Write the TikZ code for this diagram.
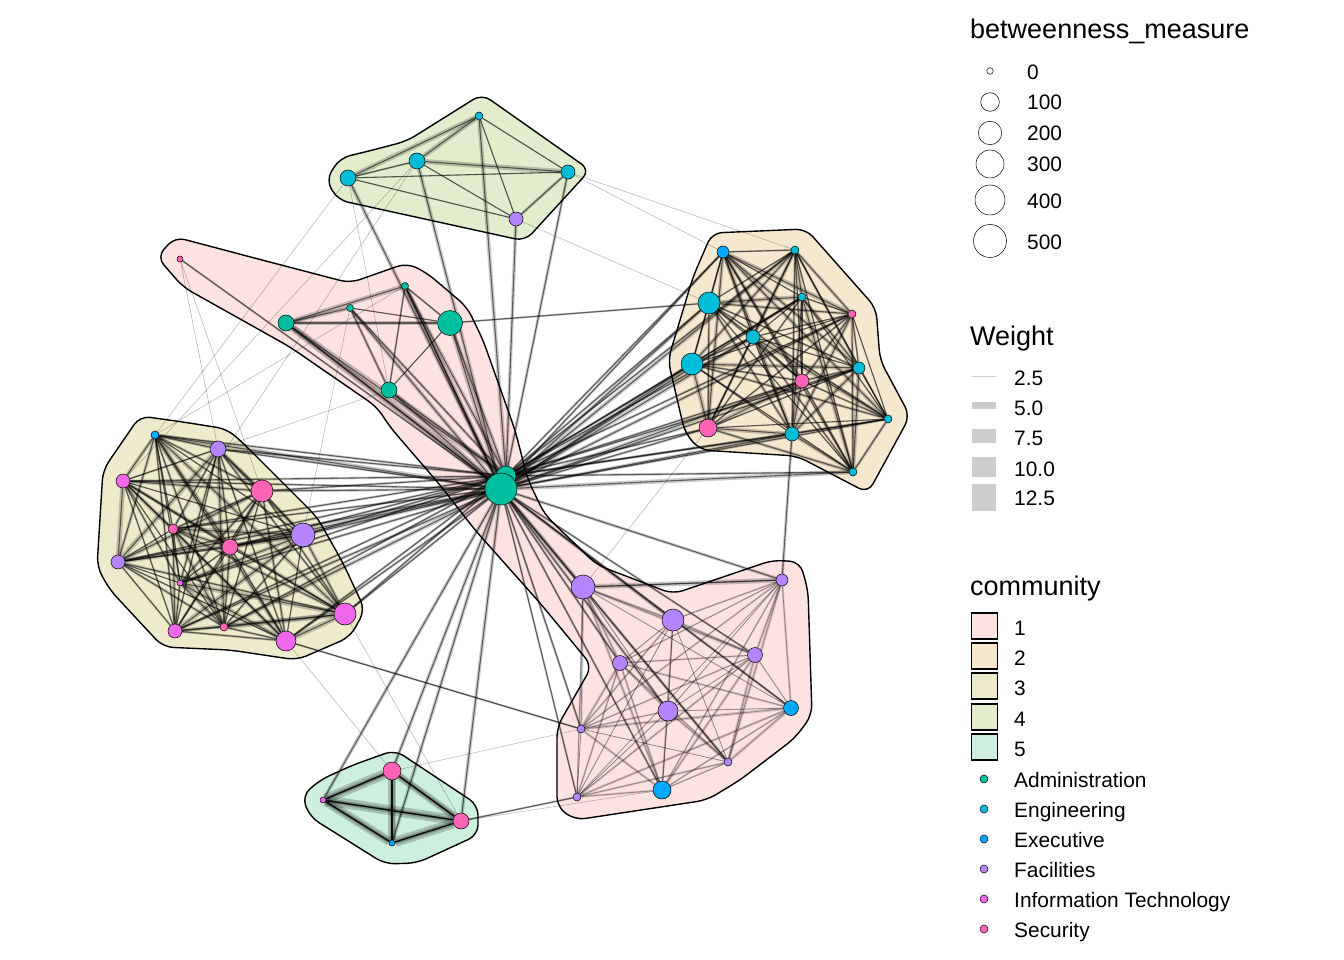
\documentclass[tikz,border=0pt]{standalone}
\usepackage{fontspec}
\setmainfont{Liberation Sans}
\pgfdeclarelayer{hullfill}
\pgfdeclarelayer{edges}
\pgfdeclarelayer{hullline}
\pgfsetlayers{hullfill,edges,hullline,main}
\definecolor{cAdm}{HTML}{00BFA0}
\definecolor{cEng}{HTML}{00BCD6}
\definecolor{cExe}{HTML}{00A8FF}
\definecolor{cFac}{HTML}{B385FF}
\definecolor{cIT}{HTML}{EF67EB}
\definecolor{cSec}{HTML}{FF63B6}
\definecolor{hA}{HTML}{FDE2E2}
\definecolor{hB}{HTML}{F6E8CF}
\definecolor{hC}{HTML}{EEEACC}
\definecolor{hD}{HTML}{E1EDCD}
\definecolor{hE}{HTML}{CDF0DE}
\definecolor{wgray}{HTML}{CCCCCC}
\newcommand\ED[3]{\draw[ehalo,line width=#3pt] (#1) -- (#2);\draw[ecore] (#1) -- (#2);}
\newcommand\ET[2]{\draw[ethin] (#1) -- (#2);}
\newcommand\hullA{(262,260) -- (350,283) -- (407,263) -- (427,273) -- (467,307) -- (483,340) -- (515,430) -- (528,480) -- (545,515) -- (597,565) -- (673,594) -- (773,560) -- (800,562) -- (808,590) -- (812,715) -- (795,738) -- (740,780) -- (707,800) -- (575,820) -- (557,807) -- (557,727) -- (592,666) -- (540,603) -- (475,530) -- (440,485) -- (390,427) -- (377,407) -- (290,347) -- (183,287) -- (157,257) -- (175,237) -- cycle}
\newcommand\hullB{(759,231) -- (806,229) -- (876,308) -- (880,360) -- (910,416) -- (868,493) -- (797,456) -- (700,450) -- (685,433) -- (668,360) -- (693,277) -- (712,233) -- cycle}
\newcommand\hullC{(183,422) -- (227,429) -- (243,443) -- (317,517) -- (343,563) -- (365,610) -- (350,637) -- (297,660) -- (230,650) -- (163,647) -- (110,590) -- (97,567) -- (103,470) -- (140,416) -- cycle}
\newcommand\hullD{(373,150) -- (407,141) -- (482,94) -- (590,170) -- (525,241) -- (338,200) -- (326,180) -- (340,158) -- cycle}
\newcommand\hullE{(353,765) -- (395,750) -- (478,805) -- (478,835) -- (417,863) -- (385,864) -- (310,817) -- (302,796) -- (320,780) -- cycle}
\begin{document}
\begin{tikzpicture}[x=1pt,y=-1pt,
  nd/.style={circle,draw=black,line width=.5pt,inner sep=0pt,minimum size=#1},
  adm/.style={fill=cAdm}, eng/.style={fill=cEng}, exe/.style={fill=cExe},
  fac/.style={fill=cFac}, itc/.style={fill=cIT}, sec/.style={fill=cSec},
  ehalo/.style={draw=black,opacity=.2,line cap=butt},
  ecore/.style={draw=black,opacity=.55,line width=1.1pt},
  ethin/.style={draw=black,opacity=.3,line width=.5pt},
  hullstyle/.style={rounded corners=10pt},
  ttl/.style={anchor=base west,inner sep=0pt,font=\fontsize{27}{30}\selectfont},
  lab/.style={anchor=base west,inner sep=0pt,font=\fontsize{20.9}{24}\selectfont},
  lbox/.style={draw=black,line width=1.3pt},
  lcirc/.style={circle,draw=black,line width=.5pt,fill=white,inner sep=0pt,minimum size=#1}]
\useasboundingbox (0,0) rectangle (1344,960);
\begin{pgfonlayer}{hullfill}
  \fill[white] (0,0) rectangle (1344,960);
  \fill[hA,hullstyle] \hullA;
  \fill[hB,hullstyle] \hullB;
  \fill[hC,hullstyle] \hullC;
  \fill[hD,hullstyle] \hullD;
  \fill[hE,hullstyle] \hullE;
\end{pgfonlayer}
\begin{pgfonlayer}{hullline}
  \draw[black,line width=1.4pt,hullstyle] \hullA;
  \draw[black,line width=1.4pt,hullstyle] \hullB;
  \draw[black,line width=1.4pt,hullstyle] \hullC;
  \draw[black,line width=1.4pt,hullstyle] \hullD;
  \draw[black,line width=1.4pt,hullstyle] \hullE;
\end{pgfonlayer}
% ---- nodes: community 1
\node[nd=20pt,adm] (hub2) at (506,476) {};
\node[nd=32pt,adm] (hub) at (501,489) {};
\node[nd=6pt,sec] (a1) at (180,259) {};
\node[nd=16pt,adm] (a2) at (286,323) {};
\node[nd=7pt,adm] (a3) at (350,308) {};
\node[nd=7pt,adm] (a4) at (405,286) {};
\node[nd=25pt,adm] (a5) at (450,323) {};
\node[nd=16pt,adm] (a6) at (389,390) {};
\node[nd=24pt,fac] (g1) at (583,587) {};
\node[nd=22pt,fac] (g2) at (673,620) {};
\node[nd=12pt,fac] (g3) at (782,580) {};
\node[nd=15pt,fac] (g4) at (620,663) {};
\node[nd=15pt,fac] (g5) at (755,655) {};
\node[nd=20pt,fac] (g6) at (668,711) {};
\node[nd=15pt,exe] (g7) at (791,708) {};
\node[nd=8pt,fac] (g8) at (581,729) {};
\node[nd=8pt,fac] (g9) at (728,762) {};
\node[nd=18pt,exe] (g10) at (662,790) {};
\node[nd=8pt,fac] (g11) at (577,797) {};
% community 2
\node[nd=12pt,exe] (b1) at (723,252) {};
\node[nd=8pt,eng] (b2) at (795,250) {};
\node[nd=22pt,eng] (b3) at (709,303) {};
\node[nd=8pt,eng] (b4) at (802,297) {};
\node[nd=8pt,sec] (b5) at (852,314) {};
\node[nd=14pt,eng] (b6) at (753,337) {};
\node[nd=22pt,eng] (b7) at (692,364) {};
\node[nd=14pt,sec] (b8) at (802,381) {};
\node[nd=12pt,eng] (b9) at (859,368) {};
\node[nd=8pt,eng] (b10) at (888,419) {};
\node[nd=18pt,sec] (b11) at (708,428) {};
\node[nd=14pt,eng] (b12) at (792,434) {};
\node[nd=8pt,eng] (b13) at (853,472) {};
% community 3
\node[nd=8pt,exe] (c1) at (155,435) {};
\node[nd=16pt,fac] (c2) at (218,449) {};
\node[nd=14pt,itc] (c3) at (123,481) {};
\node[nd=22pt,sec] (c4) at (262,491) {};
\node[nd=10pt,sec] (c5) at (173,529) {};
\node[nd=16pt,sec] (c6) at (230,547) {};
\node[nd=24pt,fac] (c7) at (303,535) {};
\node[nd=14pt,fac] (c8) at (118,562) {};
\node[nd=6pt,itc] (c9) at (180,583) {};
\node[nd=22pt,itc] (c10) at (345,614) {};
\node[nd=14pt,itc] (c11) at (175,631) {};
\node[nd=8pt,sec] (c12) at (224,627) {};
\node[nd=20pt,itc] (c13) at (286,641) {};
% community 4
\node[nd=16pt,eng] (d1) at (348,178) {};
\node[nd=16pt,eng] (d2) at (417,161) {};
\node[nd=8pt,eng] (d3) at (479,116) {};
\node[nd=14pt,eng] (d4) at (568,172) {};
\node[nd=14pt,fac] (d5) at (516,219) {};
% community 5
\node[nd=18pt,sec] (e1) at (392,771) {};
\node[nd=6pt,itc] (e2) at (323,800) {};
\node[nd=16pt,sec] (e3) at (461,821) {};
\node[nd=6pt,exe] (e4) at (392,843) {};
% ---- edges
\begin{pgfonlayer}{edges}
\pgfmathsetseed{42}
% inter-community thin links
\ET{a1}{c2} \ET{a4}{c1} \ET{d1}{c1} \ET{d2}{c3} \ET{a1}{c4} \ET{d1}{a6}
\ET{d4}{b2} \ET{d4}{b1} \ET{d5}{b3} \ET{c13}{g8} \ET{c13}{e1} \ET{c10}{e3}
\ET{e1}{g8} \ET{c7}{a3} \ET{d2}{c5} \ET{b11}{g1} \ET{g10}{e3} \ET{a6}{c3}
\ED{a5}{b3}{2}
\ED{b12}{g3}{3}
\ED{g1}{g3}{5}
\ED{e3}{g11}{2}
\ED{c13}{g8}{2}
% community 4
\ED{d1}{d2}{2} \ED{d1}{d3}{5} \ED{d2}{d3}{5} \ED{d2}{d4}{5} \ED{d1}{d4}{1}
\ED{d3}{d4}{1} \ED{d3}{d5}{1} \ED{d4}{d5}{3} \ED{d1}{d5}{1} \ED{d2}{d5}{.8}
\ED{hub}{d1}{4} \ED{hub}{d2}{4} \ED{hub2}{d3}{4} \ED{hub2}{d5}{3.5} \ED{hub2}{d4}{3}
% arm of community 1
\ED{a1}{hub}{2} \ED{a2}{a4}{5} \ED{a2}{a3}{4} \ED{a2}{a5}{4} \ED{a3}{a5}{1}
\ED{a3}{a6}{3} \ED{a4}{a6}{2} \ED{a4}{a5}{2} \ED{a5}{a6}{1}
\ED{a2}{hub}{7} \ED{a2}{hub2}{6} \ED{a3}{hub}{4} \ED{a4}{hub}{5} \ED{a4}{hub2}{4}
\ED{a5}{hub}{5} \ED{a5}{hub2}{4} \ED{a6}{hub}{5} \ED{a6}{hub2}{4}
\ED{a2}{hub}{4} \ED{a4}{hub}{3} \ED{a3}{hub2}{3}
% community 5
\foreach \p/\q/\w in {e1/e2/10,e1/e3/8,e1/e4/8,e2/e3/10,e2/e4/9,e3/e4/10}{%
  \ED{\p}{\q}{\w}\ED{\p}{\q}{5}\ED{\p}{\q}{2.5}}
\ED{e1}{hub}{3.5} \ED{e2}{hub}{3.5} \ED{e3}{hub}{3.5} \ED{e4}{hub}{3.5}
% community 2
\foreach \i in {1,...,12}{%
  \pgfmathtruncatemacro\s{\i+1}%
  \foreach \j in {\s,...,13}{%
    \pgfmathsetmacro\w{0.8+4*rnd}%
    \ED{b\i}{b\j}{\w}%
  }%
}
\foreach \i in {1,...,13}{%
  \pgfmathsetmacro\w{2+2.5*rnd}%
  \ED{hub}{b\i}{\w}%
  \ED{hub2}{b\i}{2.5}%
}
% community 3
\foreach \i in {1,...,12}{%
  \pgfmathtruncatemacro\s{\i+1}%
  \foreach \j in {\s,...,13}{%
    \pgfmathsetmacro\w{0.8+4.5*rnd}%
    \ED{c\i}{c\j}{\w}%
  }%
}
\foreach \i in {1,...,13}{%
  \pgfmathsetmacro\w{2+2.5*rnd}%
  \ED{hub}{c\i}{\w}%
  \ED{hub2}{c\i}{2.5}%
}
% lower group of community 1
\foreach \i in {1,...,10}{%
  \pgfmathtruncatemacro\s{\i+1}%
  \foreach \j in {\s,...,11}{%
    \pgfmathsetmacro\w{0.5+2.5*rnd}%
    \draw[draw=black,opacity=.16,line width=\w pt] (g\i) -- (g\j);%
    \draw[draw=black,opacity=.32,line width=.7pt] (g\i) -- (g\j);%
  }%
}
\foreach \i in {1,...,11}{%
  \pgfmathsetmacro\w{2+2.5*rnd}%
  \ED{hub}{g\i}{\w}%
}
\end{pgfonlayer}
% ---- legend: betweenness
\node[ttl] (t1) at (970,39) {betweenness\_measure};
\node[lcirc=6.6pt] (l0) at (990,71) {};
\node[lcirc=18.6pt] (l1) at (990,102) {};
\node[lcirc=23.4pt] (l2) at (990,133) {};
\node[lcirc=28pt] (l3) at (990,164) {};
\node[lcirc=30pt] (l4) at (990,200) {};
\node[lcirc=33pt] (l5) at (990,241) {};
\node[lab] (n0) at (1027,80) {0};
\node[lab] (n1) at (1027,110) {100};
\node[lab] (n2) at (1027,141) {200};
\node[lab] (n3) at (1027,172) {300};
\node[lab] (n4) at (1027,209) {400};
\node[lab] (n5) at (1027,249) {500};
% ---- legend: weight
\node[ttl] (t2) at (970,345) {Weight};
\fill[wgray] (972,375.5) rectangle (996,377);
\fill[wgray] (972,402) rectangle (996,409);
\fill[wgray] (972,429) rectangle (996,443);
\fill[wgray] (972,457) rectangle (996,477);
\fill[wgray] (972,484) rectangle (996,511);
\node[lab] (w1) at (1014,385) {2.5};
\node[lab] (w2) at (1014,415) {5.0};
\node[lab] (w3) at (1014,445) {7.5};
\node[lab] (w4) at (1014,476) {10.0};
\node[lab] (w5) at (1014,505) {12.5};
% ---- legend: community
\node[ttl] (t3) at (970,595) {community};
\draw[lbox,fill=hA] (971.5,613) rectangle (997.5,639);
\draw[lbox,fill=hB] (971.5,643) rectangle (997.5,669);
\draw[lbox,fill=hC] (971.5,673) rectangle (997.5,699);
\draw[lbox,fill=hD] (971.5,704) rectangle (997.5,730);
\draw[lbox,fill=hE] (971.5,734) rectangle (997.5,760);
\node[lab] (k1) at (1014,635) {1};
\node[lab] (k2) at (1014,665) {2};
\node[lab] (k3) at (1014,695) {3};
\node[lab] (k4) at (1014,726) {4};
\node[lab] (k5) at (1014,756) {5};
\node[nd=8pt,adm] (m1) at (984,779) {};
\node[nd=8pt,eng] (m2) at (984,809) {};
\node[nd=8pt,exe] (m3) at (984,839) {};
\node[nd=8pt,fac] (m4) at (984,869) {};
\node[nd=8pt,itc] (m5) at (984,899) {};
\node[nd=8pt,sec] (m6) at (984,929) {};
\node[lab] (q1) at (1014,787) {Administration};
\node[lab] (q2) at (1014,817) {Engineering};
\node[lab] (q3) at (1014,847) {Executive};
\node[lab] (q4) at (1014,877) {Facilities};
\node[lab] (q5) at (1014,907) {Information Technology};
\node[lab] (q6) at (1014,937) {Security};
\end{tikzpicture}
\end{document}
